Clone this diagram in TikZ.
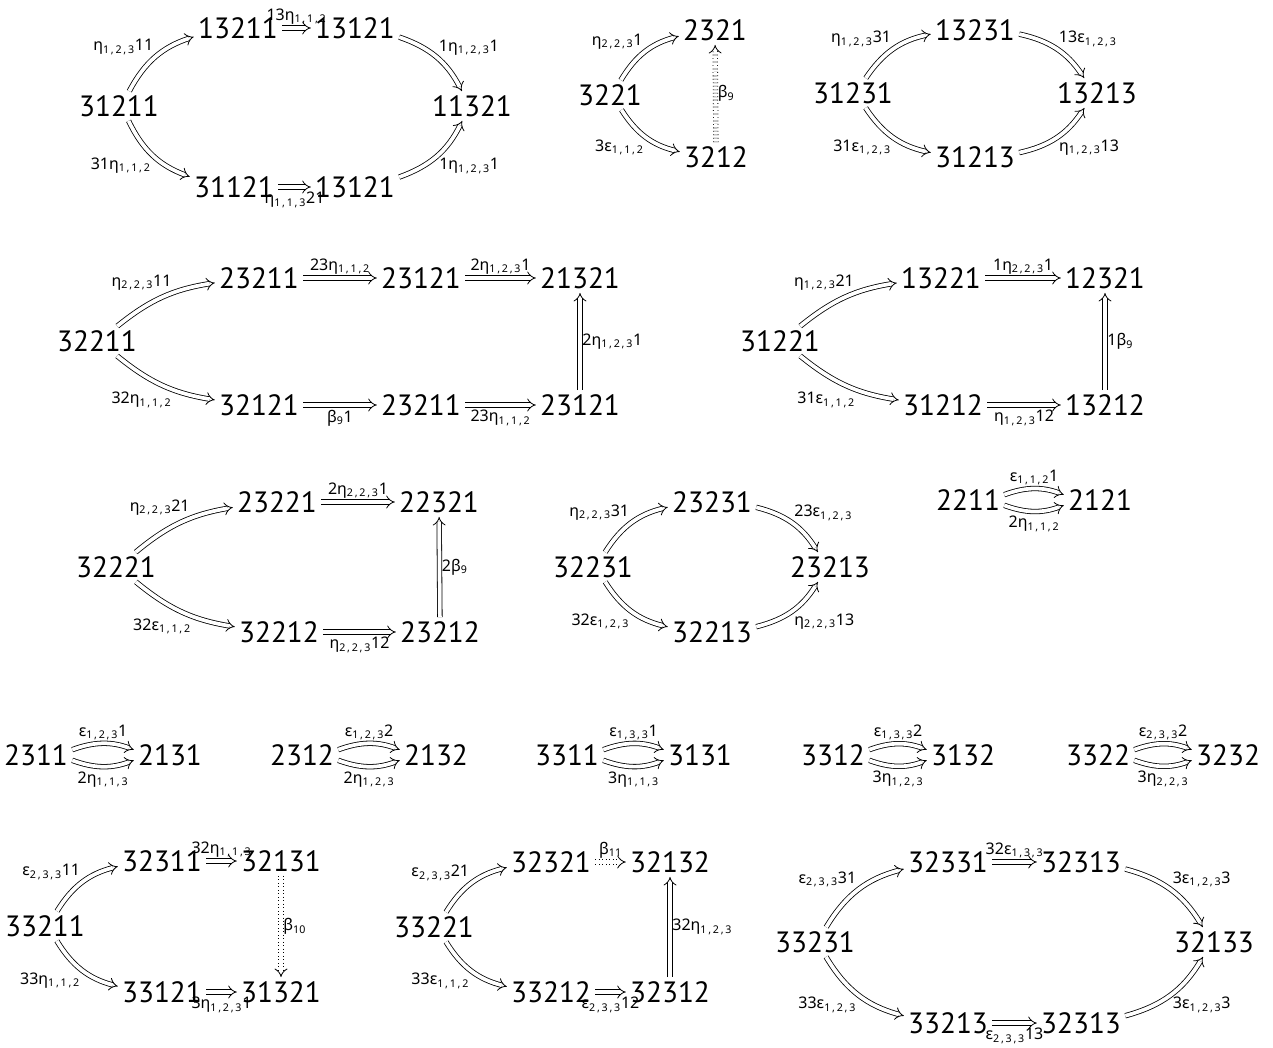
\documentclass[tikz,border=0pt]{standalone}
\usepackage{fontspec}
\setmainfont{PT Sans}
\newfontfamily\labfont{Noto Sans}
\usetikzlibrary{arrows.meta}
\newcommand\lab[6]{#1#2\textsubscript{#3\,,\,#4\,,\,#5}#6}
\newcommand\bet[3]{#1β\textsubscript{#2}#3}
\tikzset{
  ob/.style={font=\fontsize{22}{24}\selectfont, inner sep=3pt},
  lb/.style={font=\labfont\fontsize{12}{14}\selectfont, inner sep=1.5pt},
  dar/.style={double, double distance=2.8pt, line width=0.6pt, -{Implies}},
  dotar/.style={dar, dotted},
  lbu/.style={lb, above, yshift=1pt},
  lbd/.style={lb, below, yshift=-2pt},
}
\begin{document}
\begin{tikzpicture}[x=0.75pt,y=0.75pt]
\useasboundingbox (0,0) rectangle (1273,-1047);
% ---------- D1
\node[ob] (a1) at (119,-106) {31211};
\node[ob] (a2) at (238,-28) {13211};
\node[ob] (a3) at (355,-28) {13121};
\node[ob] (a4) at (472,-106) {11321};
\node[ob] (a5) at (234,-187) {31121};
\node[ob] (a6) at (355,-187) {13121};
\draw[dar] (a1) to[bend left=22] node[lb,above left]{\lab{}{η}{1}{2}{3}{11}} (a2);
\draw[dar] (a2) -- node[lbu]{\lab{13}{η}{1}{1}{2}{}} (a3);
\draw[dar] (a3) to[bend left=22] node[lb,above right]{\lab{1}{η}{1}{2}{3}{1}} (a4);
\draw[dar] (a1) to[bend right=22] node[lb,below left]{\lab{31}{η}{1}{1}{2}{}} (a5);
\draw[dar] (a5) -- node[lbd]{\lab{}{η}{1}{1}{3}{21}} (a6);
\draw[dar] (a6) to[bend right=22] node[lb,below right]{\lab{1}{η}{1}{2}{3}{1}} (a4);
% ---------- D2
\node[ob] (b1) at (610,-95) {3221};
\node[ob] (b2) at (715,-30) {2321};
\node[ob] (b3) at (716,-157) {3212};
\draw[dar] (b1) to[bend left=22] node[lb,above left]{\lab{}{η}{2}{2}{3}{1}} (b2);
\draw[dar] (b1) to[bend right=22] node[lb,below left]{\lab{3}{ε}{1}{1}{2}{}} (b3);
\draw[dotar] (b3) -- node[lb,right]{\bet{}{9}{}} (b2);
% ---------- D3
\node[ob] (c1) at (853,-93) {31231};
\node[ob] (c2) at (975,-30) {13231};
\node[ob] (c3) at (1097,-93) {13213};
\node[ob] (c4) at (975,-157) {31213};
\draw[dar] (c1) to[bend left=22] node[lb,above left]{\lab{}{η}{1}{2}{3}{31}} (c2);
\draw[dar] (c2) to[bend left=22] node[lb,above right]{\lab{13}{ε}{1}{2}{3}{}} (c3);
\draw[dar] (c1) to[bend right=22] node[lb,below left]{\lab{31}{ε}{1}{2}{3}{}} (c4);
\draw[dar] (c4) to[bend right=22] node[lb,below right]{\lab{}{η}{1}{2}{3}{13}} (c3);
% ---------- D4
\node[ob] (d1) at (97,-341) {32211};
\node[ob] (d2) at (259,-278) {23211};
\node[ob] (d3) at (421,-278) {23121};
\node[ob] (d4) at (580,-278) {21321};
\node[ob] (d5) at (259,-405) {32121};
\node[ob] (d6) at (421,-405) {23211};
\node[ob] (d7) at (580,-405) {23121};
\draw[dar] (d1) to[bend left=15] node[lb,pos=0.62,above left]{\lab{}{η}{2}{2}{3}{11}} (d2);
\draw[dar] (d2) -- node[lbu]{\lab{23}{η}{1}{1}{2}{}} (d3);
\draw[dar] (d3) -- node[lbu]{\lab{2}{η}{1}{2}{3}{1}} (d4);
\draw[dar] (d1) to[bend right=15] node[lb,pos=0.62,below left]{\lab{32}{η}{1}{1}{2}{}} (d5);
\draw[dar] (d5) -- node[lbd]{\bet{}{9}{1}} (d6);
\draw[dar] (d6) -- node[lbd]{\lab{23}{η}{1}{1}{2}{}} (d7);
\draw[dar] (d7) -- node[lb,right]{\lab{2}{η}{1}{2}{3}{1}} (d4);
% ---------- D5
\node[ob] (e1) at (780,-341) {31221};
\node[ob] (e2) at (941,-278) {13221};
\node[ob] (e3) at (1105,-278) {12321};
\node[ob] (e4) at (943,-405) {31212};
\node[ob] (e5) at (1105,-405) {13212};
\draw[dar] (e1) to[bend left=15] node[lb,pos=0.62,above left]{\lab{}{η}{1}{2}{3}{21}} (e2);
\draw[dar] (e2) -- node[lbu]{\lab{1}{η}{2}{2}{3}{1}} (e3);
\draw[dar] (e1) to[bend right=15] node[lb,pos=0.62,below left]{\lab{31}{ε}{1}{1}{2}{}} (e4);
\draw[dar] (e4) -- node[lbd]{\lab{}{η}{1}{2}{3}{12}} (e5);
\draw[dar] (e5) -- node[lb,right]{\bet{1}{9}{}} (e3);
% ---------- D6
\node[ob] (f1) at (116,-567) {32221};
\node[ob] (f2) at (277,-502) {23221};
\node[ob] (f3) at (439,-502) {22321};
\node[ob] (f4) at (279,-632) {32212};
\node[ob] (f5) at (440,-632) {23212};
\draw[dar] (f1) to[bend left=15] node[lb,pos=0.62,above left]{\lab{}{η}{2}{2}{3}{21}} (f2);
\draw[dar] (f2) -- node[lbu]{\lab{2}{η}{2}{2}{3}{1}} (f3);
\draw[dar] (f1) to[bend right=15] node[lb,pos=0.62,below left]{\lab{32}{ε}{1}{1}{2}{}} (f4);
\draw[dar] (f4) -- node[lbd]{\lab{}{η}{2}{2}{3}{12}} (f5);
\draw[dar] (f5) -- node[lb,right]{\bet{2}{9}{}} (f3);
% ---------- D7
\node[ob] (g1) at (593,-567) {32231};
\node[ob] (g2) at (712,-502) {23231};
\node[ob] (g3) at (830,-567) {23213};
\node[ob] (g4) at (712,-632) {32213};
\draw[dar] (g1) to[bend left=22] node[lb,above left]{\lab{}{η}{2}{2}{3}{31}} (g2);
\draw[dar] (g2) to[bend left=22] node[lb,above right]{\lab{23}{ε}{1}{2}{3}{}} (g3);
\draw[dar] (g1) to[bend right=22] node[lb,below left]{\lab{32}{ε}{1}{2}{3}{}} (g4);
\draw[dar] (g4) to[bend right=22] node[lb,below right]{\lab{}{η}{2}{2}{3}{13}} (g3);
% ---------- D8
\node[ob] (h1) at (968,-500) {2211};
\node[ob] (h2) at (1100,-500) {2121};
\draw[dar] ([yshift=4pt]h1.east) to[bend left=20] node[lbu]{\lab{}{ε}{1}{1}{2}{1}} ([yshift=4pt]h2.west);
\draw[dar] ([yshift=-4pt]h1.east) to[bend right=20] node[lbd]{\lab{2}{η}{1}{1}{2}{}} ([yshift=-4pt]h2.west);
% ---------- Row 4
\node[ob] (i1) at (36,-755) {2311};
\node[ob] (i2) at (170,-755) {2131};
\node[ob] (i3) at (302,-755) {2312};
\node[ob] (i4) at (436,-755) {2132};
\node[ob] (i5) at (567,-755) {3311};
\node[ob] (i6) at (700,-755) {3131};
\node[ob] (i7) at (833,-755) {3312};
\node[ob] (i8) at (963,-755) {3132};
\node[ob] (i9) at (1098,-755) {3322};
\node[ob] (i10) at (1228,-755) {3232};
\draw[dar] ([yshift=4pt]i1.east) to[bend left=20] node[lbu]{\lab{}{ε}{1}{2}{3}{1}} ([yshift=4pt]i2.west);
\draw[dar] ([yshift=-4pt]i1.east) to[bend right=20] node[lbd]{\lab{2}{η}{1}{1}{3}{}} ([yshift=-4pt]i2.west);
\draw[dar] ([yshift=4pt]i3.east) to[bend left=20] node[lbu]{\lab{}{ε}{1}{2}{3}{2}} ([yshift=4pt]i4.west);
\draw[dar] ([yshift=-4pt]i3.east) to[bend right=20] node[lbd]{\lab{2}{η}{1}{2}{3}{}} ([yshift=-4pt]i4.west);
\draw[dar] ([yshift=4pt]i5.east) to[bend left=20] node[lbu]{\lab{}{ε}{1}{3}{3}{1}} ([yshift=4pt]i6.west);
\draw[dar] ([yshift=-4pt]i5.east) to[bend right=20] node[lbd]{\lab{3}{η}{1}{1}{3}{}} ([yshift=-4pt]i6.west);
\draw[dar] ([yshift=4pt]i7.east) to[bend left=20] node[lbu]{\lab{}{ε}{1}{3}{3}{2}} ([yshift=4pt]i8.west);
\draw[dar] ([yshift=-4pt]i7.east) to[bend right=20] node[lbd]{\lab{3}{η}{1}{2}{3}{}} ([yshift=-4pt]i8.west);
\draw[dar] ([yshift=4pt]i9.east) to[bend left=20] node[lbu]{\lab{}{ε}{2}{3}{3}{2}} ([yshift=4pt]i10.west);
\draw[dar] ([yshift=-4pt]i9.east) to[bend right=20] node[lbd]{\lab{3}{η}{2}{2}{3}{}} ([yshift=-4pt]i10.west);
% ---------- D9
\node[ob] (j1) at (45,-926) {33211};
\node[ob] (j2) at (162,-861) {32311};
\node[ob] (j3) at (281,-861) {32131};
\node[ob] (j4) at (162,-992) {33121};
\node[ob] (j5) at (281,-992) {31321};
\draw[dar] (j1) to[bend left=22] node[lb,above left]{\lab{}{ε}{2}{3}{3}{11}} (j2);
\draw[dar] (j2) -- node[lbu]{\lab{32}{η}{1}{1}{3}{}} (j3);
\draw[dar] (j1) to[bend right=22] node[lb,below left]{\lab{33}{η}{1}{1}{2}{}} (j4);
\draw[dar] (j4) -- node[lbd]{\lab{3}{η}{1}{2}{3}{1}} (j5);
\draw[dotar] (j3) -- node[lb,right]{\bet{}{10}{}} (j5);
% ---------- D10
\node[ob] (k1) at (434,-927) {33221};
\node[ob] (k2) at (551,-862) {32321};
\node[ob] (k3) at (670,-862) {32132};
\node[ob] (k4) at (551,-992) {33212};
\node[ob] (k5) at (670,-992) {32312};
\draw[dar] (k1) to[bend left=22] node[lb,above left]{\lab{}{ε}{2}{3}{3}{21}} (k2);
\draw[dotar] (k2) -- node[lbu]{\bet{}{11}{}} (k3);
\draw[dar] (k1) to[bend right=22] node[lb,below left]{\lab{33}{ε}{1}{1}{2}{}} (k4);
\draw[dar] (k4) -- node[lbd]{\lab{}{ε}{2}{3}{3}{12}} (k5);
\draw[dar] (k5) -- node[lb,right]{\lab{32}{η}{1}{2}{3}{}} (k3);
% ---------- D11
\node[ob] (l1) at (815,-942) {33231};
\node[ob] (l2) at (948,-862) {32331};
\node[ob] (l3) at (1081,-862) {32313};
\node[ob] (l4) at (1214,-942) {32133};
\node[ob] (l5) at (948,-1023) {33213};
\node[ob] (l6) at (1081,-1023) {32313};
\draw[dar] (l1) to[bend left=22] node[lb,above left]{\lab{}{ε}{2}{3}{3}{31}} (l2);
\draw[dar] (l2) -- node[lbu]{\lab{32}{ε}{1}{3}{3}{}} (l3);
\draw[dar] (l3) to[bend left=22] node[lb,above right]{\lab{3}{ε}{1}{2}{3}{3}} (l4);
\draw[dar] (l1) to[bend right=22] node[lb,below left]{\lab{33}{ε}{1}{2}{3}{}} (l5);
\draw[dar] (l5) -- node[lbd]{\lab{}{ε}{2}{3}{3}{13}} (l6);
\draw[dar] (l6) to[bend right=22] node[lb,below right]{\lab{3}{ε}{1}{2}{3}{3}} (l4);
\end{tikzpicture}
\end{document}
